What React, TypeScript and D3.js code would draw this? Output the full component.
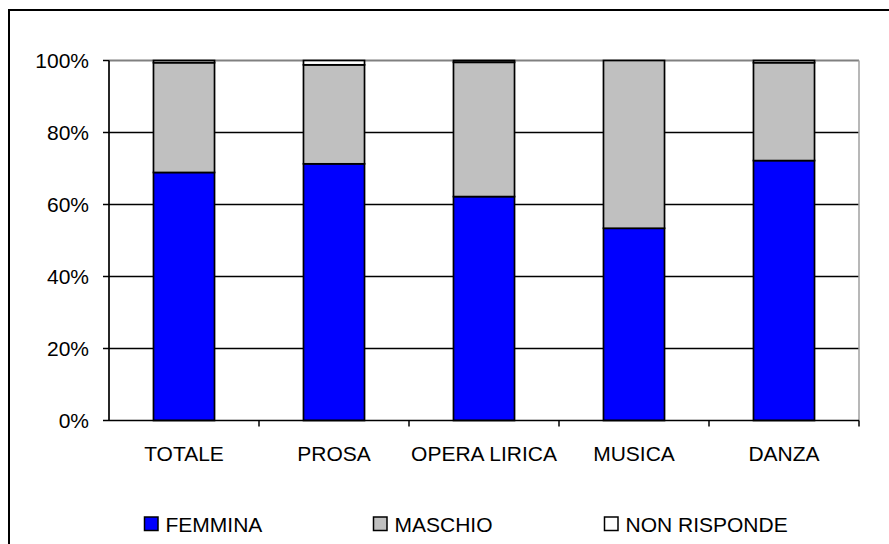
import React from "react";
import * as d3 from "d3";

const categories = ["TOTALE", "PROSA", "OPERA LIRICA", "MUSICA", "DANZA"];
const femmina = [68.9, 71.3, 62.2, 53.4, 72.2];
const maschio = [30.5, 27.5, 37.3, 46.6, 27.2];
const nonRisponde = [0.6, 1.2, 0.5, 0.0, 0.6];
const seriesNames = ["FEMMINA", "MASCHIO", "NON RISPONDE"];
const seriesColors = ["#0000ff", "#c0c0c0", "#ffffff"];
const yTicks = [0, 20, 40, 60, 80, 100];

const W = 889;
const H = 544;
const FONT = "'Liberation Sans', Arial, sans-serif";
const FS = 21;

export default function App() {
  const left = 109;
  const right = 859;
  const top = 60.5;
  const bottom = 420.5;

  const x = d3.scaleBand<string>().domain(categories).range([left, right]).paddingInner(0.593).paddingOuter(0.2965);
  const y = d3.scaleLinear().domain([0, 100]).range([bottom, top]);

  const rows = categories.map((c, i) => ({
    cat: c,
    FEMMINA: femmina[i],
    MASCHIO: maschio[i],
    "NON RISPONDE": nonRisponde[i],
  }));
  const stack = d3.stack<any>().keys(seriesNames)(rows);

  const band = (right - left) / categories.length;
  const legendX = [144, 373, 604];

  return (
    <svg width={W} height={H} style={{ position: "absolute", left: 0, top: 0, background: "#fff" }}>
      <rect x={9} y={10} width={W + 20} height={H + 20} fill="#fff" stroke="#000" strokeWidth={2} />
      {/* gridlines */}
      {yTicks.filter((t) => t > 0 && t < 100).map((t) => (
        <line key={t} x1={left} x2={right} y1={y(t)} y2={y(t)} stroke="#000" strokeWidth={1.4} />
      ))}
      {/* plot border */}
      <line x1={left} x2={right} y1={top} y2={top} stroke="#808080" strokeWidth={2} />
      <line x1={right} x2={right} y1={top} y2={bottom} stroke="#a0a0a0" strokeWidth={1.5} />
      {/* bars */}
      {stack.map((s, si) =>
        s.map((d, i) => {
          const h = y(d[0]) - y(d[1]);
          if (h <= 0) return null;
          return (
            <rect
              key={si + "-" + i}
              x={x(categories[i])}
              y={y(d[1])}
              width={x.bandwidth()}
              height={h}
              fill={seriesColors[si]}
              stroke="#000"
              strokeWidth={1.7}
            />
          );
        })
      )}
      {/* axes */}
      <line x1={left} x2={left} y1={top} y2={bottom} stroke="#000" strokeWidth={1.7} />
      <line x1={left} x2={right} y1={bottom} y2={bottom} stroke="#000" strokeWidth={1.7} />
      {yTicks.map((t) => (
        <g key={t}>
          <line x1={left - 6} x2={left} y1={y(t)} y2={y(t)} stroke="#000" strokeWidth={1.5} />
          <text x={89} y={y(t)} dy="0.36em" textAnchor="end" fontFamily={FONT} fontSize={FS} fill="#000">
            {t + "%"}
          </text>
        </g>
      ))}
      {categories.map((c, i) => (
        <g key={c}>
          <line x1={left + band * (i + 1)} x2={left + band * (i + 1)} y1={bottom} y2={bottom + 6} stroke="#000" strokeWidth={1.5} />
          <text x={x(c)! + x.bandwidth() / 2} y={461} textAnchor="middle" fontFamily={FONT} fontSize={FS} fill="#000">
            {c}
          </text>
        </g>
      ))}
      {/* legend */}
      {seriesNames.map((n, i) => (
        <g key={n}>
          <rect x={legendX[i] + 0.5} y={517} width={13.5} height={13.5} fill={seriesColors[i]} stroke="#000" strokeWidth={1.5} />
          <text x={legendX[i] + 21.5} y={524} dy="0.36em" fontFamily={FONT} fontSize={FS} fill="#000">
            {n}
          </text>
        </g>
      ))}
    </svg>
  );
}
